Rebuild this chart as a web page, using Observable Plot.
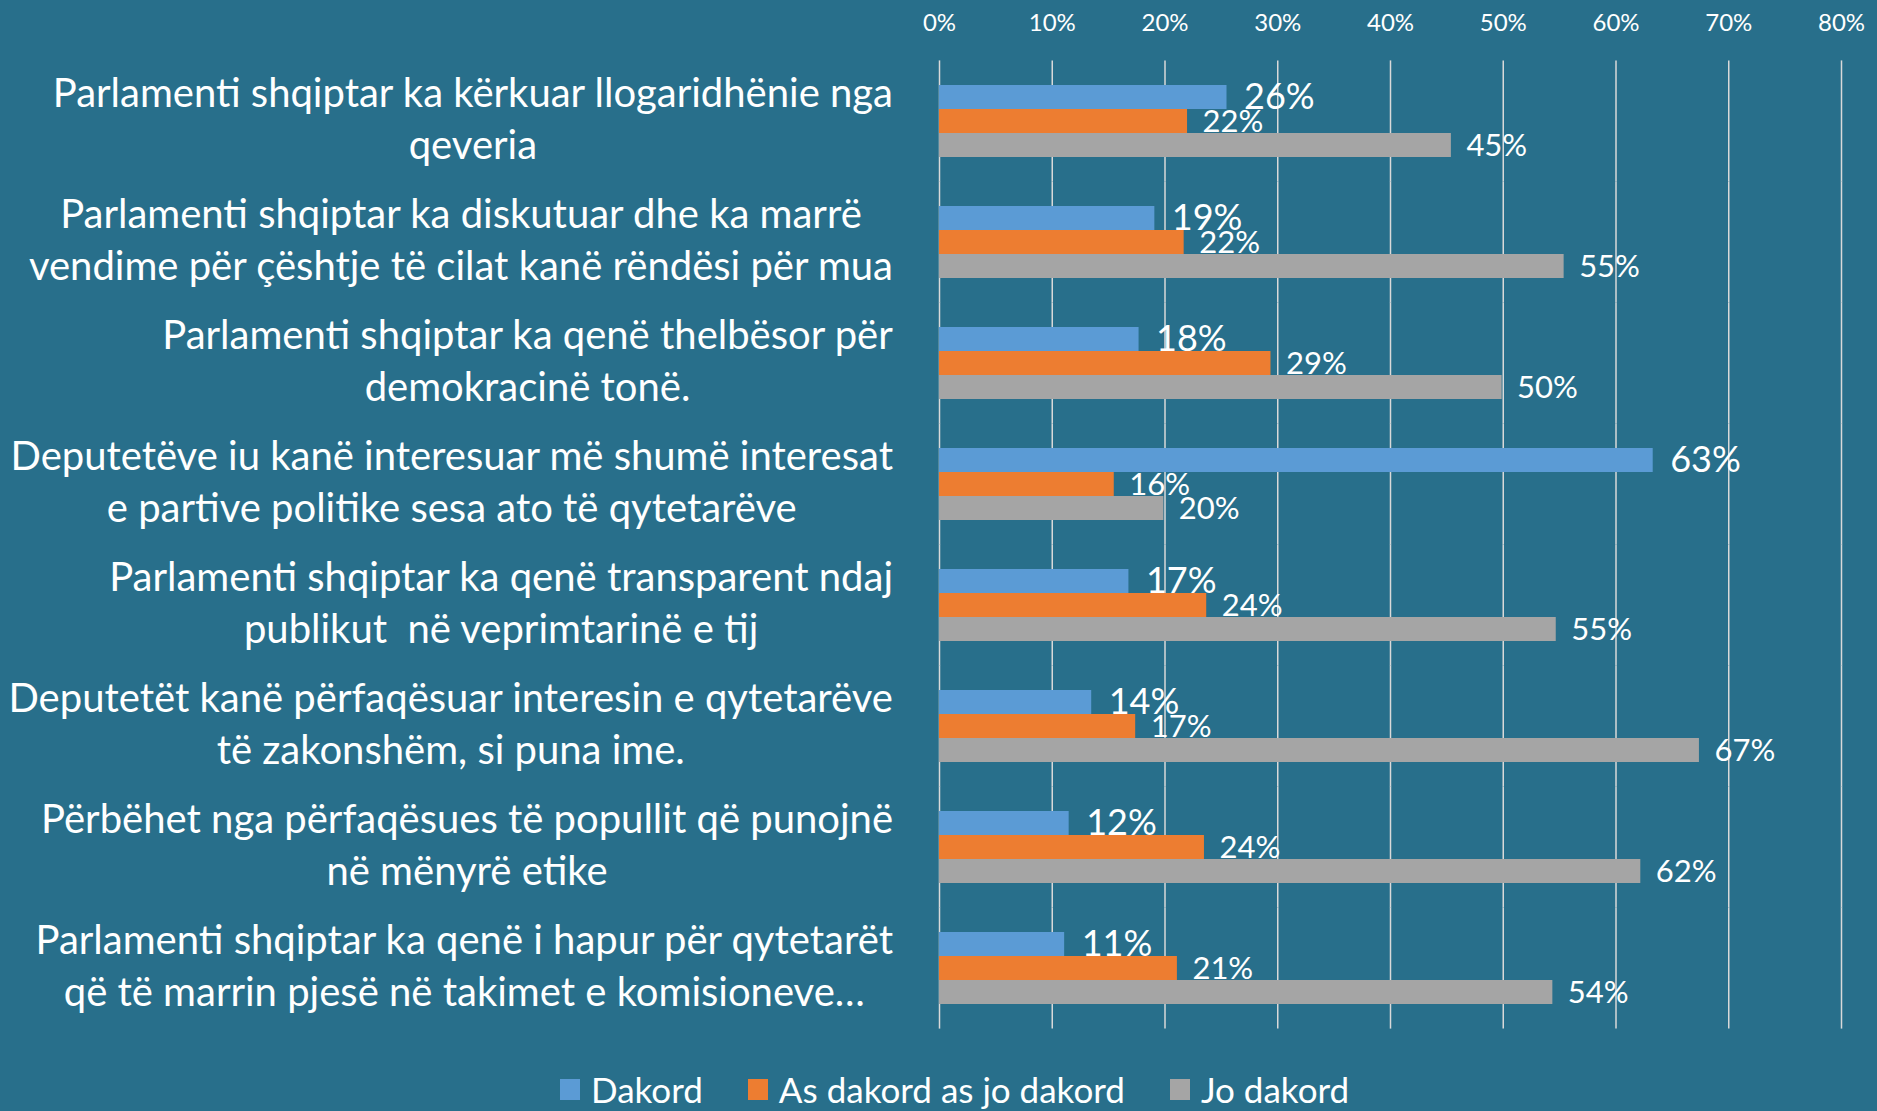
<!DOCTYPE html>
<html><head><meta charset="utf-8">
<script src="https://cdn.jsdelivr.net/npm/d3@7"></script>
<script src="https://cdn.jsdelivr.net/npm/@observablehq/plot@0.6"></script>
<style>
html,body{margin:0;padding:0;background:#286F8B;width:1877px;height:1111px;overflow:hidden;font-family:Lato,sans-serif;}
#wrap{position:relative;width:1877px;height:1111px;}
#legend{position:absolute;left:560px;top:1072px;display:flex;gap:45px;color:#fff;font-size:35px;line-height:35px;white-space:nowrap;}
.item{display:flex;align-items:center;gap:11px;}
.sw{width:20px;height:21px;display:inline-block;}
</style></head><body><div id="wrap"><div id="chart"></div><div id="legend"></div></div>
<script>
const categories = [
  "Parlamenti shqiptar ka kërkuar llogaridhënie nga\nqeveria",
  "Parlamenti shqiptar ka diskutuar dhe ka marrë\nvendime për çështje të cilat kanë rëndësi për mua",
  "Parlamenti shqiptar ka qenë thelbësor për\ndemokracinë tonë.",
  "Deputetëve iu kanë interesuar më shumë interesat\ne partive politike sesa ato të qytetarëve",
  "Parlamenti shqiptar ka qenë transparent ndaj\npublikut  në veprimtarinë e tij",
  "Deputetët kanë përfaqësuar interesin e qytetarëve\ntë zakonshëm, si puna ime.",
  "Përbëhet nga përfaqësues të popullit që punojnë\nnë mënyrë etike",
  "Parlamenti shqiptar ka qenë i hapur për qytetarët\nqë të marrin pjesë në takimet e komisioneve…"
];
const series = ["Dakord", "As dakord as jo dakord", "Jo dakord"];
const colors = ["#5B9BD5", "#ED7D31", "#A5A5A5"];
const dakord   = [25.5, 19.1, 17.7, 63.3, 16.8, 13.5, 11.5, 11.1];
const asDakord = [22.0, 21.7, 29.4, 15.5, 23.7, 17.4, 23.5, 21.1];
const joDakord = [45.4, 55.4, 49.9, 19.9, 54.7, 67.4, 62.2, 54.4];
const xTicks = [0, 10, 20, 30, 40, 50, 60, 70, 80];

const seriesValues = [dakord, asDakord, joDakord];
const rows = categories.flatMap((c, i) => series.map((s, j) => ({category: c, series: s, value: seriesValues[j][i]})));
const pct = d => Math.round(d.value) + "%";

const chart = Plot.plot({
  width: 1877, height: 1062,
  marginTop: 57, marginBottom: 30, marginLeft: 939, marginRight: 36,
  style: {background: "transparent", color: "white", fontFamily: "Lato, sans-serif", fontSize: "24px"},
  x: {domain: [0, 80], axis: null},
  y: {domain: series, axis: null, padding: 0},
  fy: {domain: categories, axis: null, paddingInner: 0.385, paddingOuter: 0.1925},
  color: {domain: series, range: colors},
  marks: [
    Plot.ruleX(xTicks, {x: d => d, stroke: "#D9D9D9", strokeWidth: 1.5, strokeOpacity: 1, insetTop: -23.6, insetBottom: -23.6}),
    Plot.axisX({anchor: "top", ticks: xTicks, tickFormat: d => d + "%", tickSize: 0, tickPadding: 54, fontSize: 24, fill: "white", label: null}),
    Plot.barX(rows, {x: "value", y: "series", fy: "category", fill: "series"}),
    Plot.text(rows.filter(d => d.series === series[0]), {x: "value", y: "series", fy: "category", text: pct, textAnchor: "start", dx: 17, dy: 0, fontSize: 36, fill: "white"}),
    Plot.text(rows.filter(d => d.series !== series[0]), {x: "value", y: "series", fy: "category", text: pct, textAnchor: "start", dx: 15, dy: 1, fontSize: 31, fill: "white"}),
    Plot.text(categories, {fy: d => d, text: d => d, frameAnchor: "left", textAnchor: "middle", dx: -470, dy: -5, fontSize: 40, lineHeight: 1.29, fill: "white", className: "cat-label"})
  ]
});
document.getElementById("chart").append(chart);

// center each label's lines within its own block, block right-aligned next to the plot
const rightEdge = chart.scale("x").range[0] - 46;
d3.select(chart).selectAll("g.cat-label text").each(function() {
  const tspans = Array.from(this.querySelectorAll("tspan"));
  const maxW = d3.max(tspans.length ? tspans : [this], t => t.getComputedTextLength());
  const bb = this.getBBox();
  const p = chart.createSVGPoint(); p.x = bb.x + bb.width / 2; p.y = 0;
  const q = p.matrixTransform(this.getScreenCTM()).matrixTransform(chart.getScreenCTM().inverse());
  const shift = (rightEdge - maxW / 2) - q.x;
  const prev = this.getAttribute("transform") || "";
  this.setAttribute("transform", `translate(${shift},0) ${prev}`);
});

const legend = d3.select("#legend");
series.forEach((s, i) => {
  const it = legend.append("div").attr("class", "item");
  it.append("span").attr("class", "sw").style("background", colors[i]);
  it.append("span").text(s);
});
</script>
</body></html>
